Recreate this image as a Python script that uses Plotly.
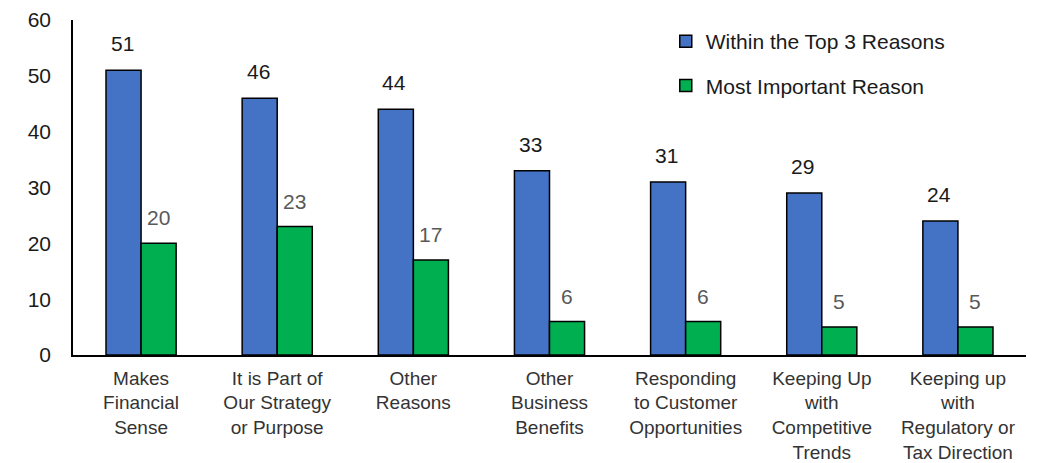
import plotly.graph_objects as go

categories = [
    "Makes<br>Financial<br>Sense",
    "It is Part of<br>Our Strategy<br>or Purpose",
    "Other<br>Reasons",
    "Other<br>Business<br>Benefits",
    "Responding<br>to Customer<br>Opportunities",
    "Keeping Up<br>with<br>Competitive<br>Trends",
    "Keeping up<br>with<br>Regulatory or<br>Tax Direction",
]
top3_values = [51, 46, 44, 33, 31, 29, 24]
most_important_values = [20, 23, 17, 6, 6, 5, 5]
series_names = ["Within the Top 3 Reasons", "Most Important Reason"]
y_ticks = [0, 10, 20, 30, 40, 50, 60]

BLUE = "#4472C4"
GREEN = "#00B050"
FONT = "Liberation Sans, Arial, sans-serif"

fig = go.Figure()
fig.add_trace(go.Bar(
    x=categories, y=top3_values, name=series_names[0], legendgroup="a",
    marker=dict(color=BLUE, line=dict(color="black", width=1.5)),
))
fig.add_trace(go.Bar(
    x=categories, y=most_important_values, name=series_names[1], legendgroup="b",
    marker=dict(color=GREEN, line=dict(color="black", width=1.5)),
))

# value labels above each bar
for cat, v in zip(categories, top3_values):
    fig.add_annotation(x=cat, y=v, text=str(v), showarrow=False, yanchor="bottom",
                       xshift=-19, yshift=13, font=dict(size=21, color="#1a1a1a", family=FONT))
for cat, v in zip(categories, most_important_values):
    fig.add_annotation(x=cat, y=v, text=str(v), showarrow=False, yanchor="bottom",
                       xshift=17, yshift=12, font=dict(size=21, color="#595959", family=FONT))

fig.update_layout(
    width=1041, height=463,
    margin=dict(l=73, r=15, t=20, b=108),
    paper_bgcolor="white", plot_bgcolor="white",
    barmode="group", bargap=0.485, bargroupgap=0,
    font=dict(family=FONT, color="#262626"),
    legend=dict(x=0.622, y=0.997, xanchor="left", yanchor="top",
                traceorder="grouped", tracegroupgap=14,
                font=dict(size=21, color="#1a1a1a", family=FONT),
                bgcolor="rgba(0,0,0,0)"),
    showlegend=True,
)
fig.update_yaxes(range=[0, 60], tickvals=y_ticks, showgrid=False, zeroline=False,
                 showline=True, linecolor="black", linewidth=1.5,
                 ticks="", ticklabelstandoff=16, automargin=False,
                 tickfont=dict(size=21, color="#1a1a1a", family=FONT))
fig.update_xaxes(showgrid=False, showline=True, linecolor="black", linewidth=1.5,
                 ticks="", ticklabelstandoff=5, tickangle=0, automargin=False,
                 tickfont=dict(size=19, color="#333333", family=FONT))

fig.write_html("out.html")
